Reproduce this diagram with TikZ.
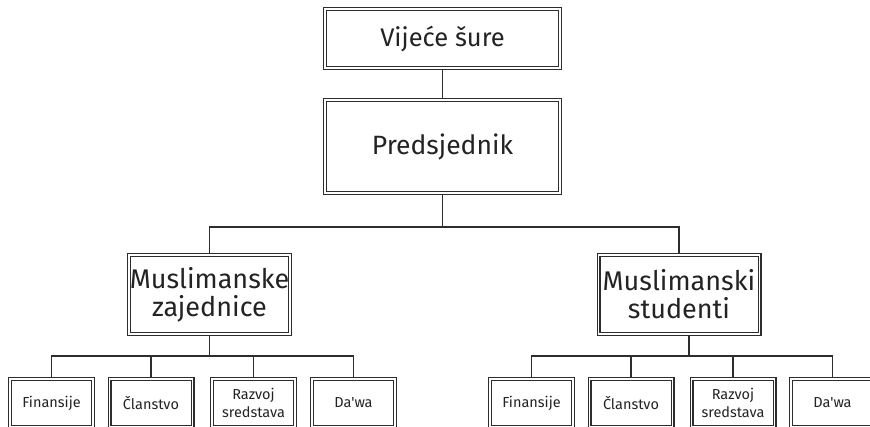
\documentclass[tikz,border=0pt]{standalone}
\usepackage{fontspec}
\newfontfamily\orgfont{Fira Sans}
\usepackage{xcolor}
\definecolor{ink}{RGB}{35,35,35}
\definecolor{wire}{RGB}{45,45,45}
\usetikzlibrary{positioning}

\begin{document}
\begin{tikzpicture}[
  x=1pt, y=-1pt,
  box/.style={rectangle,draw=wire,double=white,double distance=1.6pt,
              line width=1.2pt,outer sep=2pt,inner sep=0pt,
              align=center,text=ink},
  board/.style={box,minimum width=235pt,font=\orgfont\fontsize{25.5}{30}\selectfont},
  branch/.style={box,minimum width=161pt,minimum height=79pt,
                 font=\orgfont\fontsize{27}{28}\selectfont},
  dept/.style={box,minimum width=83pt,minimum height=48pt,
               font=\orgfont\fontsize{14.5}{18}\selectfont},
  link/.style={draw=wire,line width=1.2pt},
]
  \path[use as bounding box,clip] (0,0) rectangle (870,426);

  \node[board,minimum height=59pt](council) at (442.5,38.5) {Vijeće šure};
  \node[board,minimum height=93pt,below=28pt of council,
        font=\orgfont\fontsize{26.5}{30}\selectfont](pres) {Predsjednik};

  \node[branch](comm) at (209.5,294.5) {Muslimanske\\zajednice};
  \node[branch](stud) at (679,294.5) {Muslimanski\\studenti};

  \node[dept](cfin) at (51.5,403)  {Finansije};
  \node[dept](cmem) at (151,403)   {Članstvo};
  \node[dept](cdev) at (253.5,403) {Razvoj\\sredstava};
  \node[dept](cdaw) at (353.5,403) {Da'wa};

  \node[dept](sfin) at (531.5,403) {Finansije};
  \node[dept](smem) at (631,403)   {Članstvo};
  \node[dept](sdev) at (733,403)   {Razvoj\\sredstava};
  \node[dept](sdaw) at (832.5,403) {Da'wa};

  \draw[link] (council) -- (pres);
  \draw[link] (pres.south) -- ++(0,32) coordinate (hub) -| (comm.north);
  \draw[link] (hub) -| (stud.north);

  \draw[link] (comm.south) -- ++(0,20) coordinate (cbus);
  \draw[link] (cfin.north) |- (cbus) -| (cdaw.north);
  \draw[link] (cmem.north) -- (cmem.north |- cbus);
  \draw[link] (cdev.north) -- (cdev.north |- cbus);

  \draw[link] ([xshift=10pt]stud.south) -- ++(0,20) coordinate (sbus);
  \draw[link] (sfin.north) |- (sbus) -| (sdaw.north);
  \draw[link] (smem.north) -- (smem.north |- sbus);
  \draw[link] (sdev.north) -- (sdev.north |- sbus);
\end{tikzpicture}
\end{document}
